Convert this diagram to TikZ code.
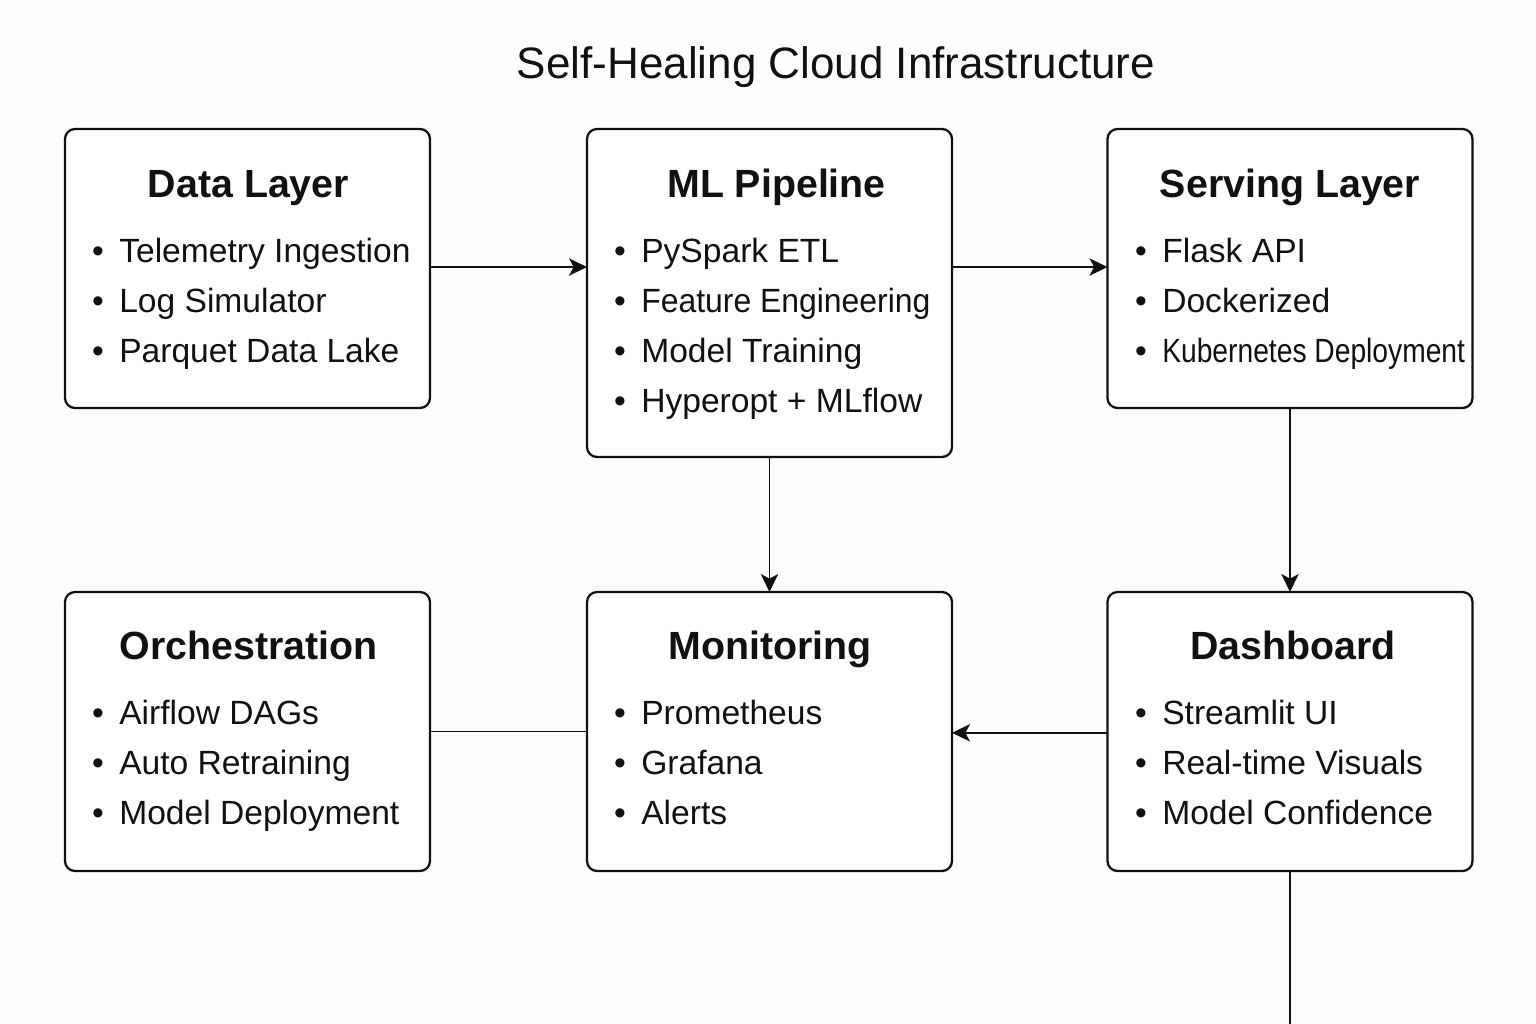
\documentclass[tikz,border=0pt]{standalone}
\usepackage{fontspec}
\setmainfont{Liberation Sans}
\usetikzlibrary{arrows.meta}
\definecolor{ink}{RGB}{17,17,17}
\definecolor{bg}{RGB}{253,253,251}
\tikzset{
  box/.style={draw=ink, line width=1.7pt, rounded corners=7.5pt, fill=white, inner sep=0pt, outer sep=0pt, minimum width=273.75pt},
  boxshort/.style={box, minimum height=209.25pt},
  boxtall/.style={box, minimum height=246pt},
  head/.style={font=\fontsize{29.5pt}{34pt}\selectfont\bfseries, text=ink, anchor=base, inner sep=0pt},
  item/.style={font=\fontsize{25.2pt}{30pt}\selectfont, text=ink, anchor=base west, inner sep=0pt},
  bul/.style={font=\fontsize{25.2pt}{30pt}\selectfont, text=ink, anchor=base, inner sep=0pt},
  arr/.style={draw=ink, line width=1.4pt, -{Stealth[length=13.5pt,width=13pt,inset=3.5pt]}},
  conn/.style={draw=ink, line width=1.4pt}
}
\begin{document}
\begin{tikzpicture}[x=0.75pt,y=-0.75pt]
\useasboundingbox[fill=bg] (0,0) rectangle (1536,1024);
\node[font=\fontsize{33pt}{38pt}\selectfont, text=ink, anchor=base, inner sep=0pt] (title) at (836,79) {Self-Healing Cloud Infrastructure};

% boxes
\node[boxshort] (data) at (247.5,268.5) {};
\node[boxtall]  (ml)   at (769.5,293) {};
\node[boxshort] (serv) at (1290,268.5) {};
\node[boxshort] (orch) at (247.5,731.5) {};
\node[boxshort] (mon)  at (769.5,731.5) {};
\node[boxshort] (dash) at (1290,731.5) {};

% Data Layer
\node[head] (h1) at (248.5,197) {Data Layer};
\node[bul] (b11) at (98,262) {•}; \node[item] (t11) at (119,262) {Telemetry Ingestion};
\node[bul] (b12) at (98,312) {•}; \node[item] (t12) at (119,312) {Log Simulator};
\node[bul] (b13) at (98,362) {•}; \node[item] (t13) at (119,362) {Parquet Data Lake};

% ML Pipeline
\node[head] (h2) at (776.5,197) {ML Pipeline};
\node[bul] (b21) at (620,262) {•}; \node[item] (t21) at (641,262) {PySpark ETL};
\node[bul] (b22) at (620,312) {•}; \node[item] (t22) at (641,312) {\scalebox{0.95}[1]{Feature Engineering}};
\node[bul] (b23) at (620,362) {•}; \node[item] (t23) at (641,362) {Model Training};
\node[bul] (b24) at (620,412) {•}; \node[item] (t24) at (641,412) {Hyperopt + MLflow};

% Serving Layer
\node[head] (h3) at (1290,197) {Serving Layer};
\node[bul] (b31) at (1141,262) {•}; \node[item] (t31) at (1162,262) {Flask API};
\node[bul] (b32) at (1141,312) {•}; \node[item] (t32) at (1162,312) {Dockerized};
\node[bul] (b33) at (1141,362) {•}; \node[item] (t33) at (1162,362) {\scalebox{0.84}[1]{Kubernetes Deployment}};

% Orchestration
\node[head] (h4) at (248.5,659) {Orchestration};
\node[bul] (b41) at (98,724) {•}; \node[item] (t41) at (119,724) {Airflow DAGs};
\node[bul] (b42) at (98,774) {•}; \node[item] (t42) at (119,774) {Auto Retraining};
\node[bul] (b43) at (98,824) {•}; \node[item] (t43) at (119,824) {Model Deployment};

% Monitoring
\node[head] (h5) at (770,659) {Monitoring};
\node[bul] (b51) at (620,724) {•}; \node[item] (t51) at (641,724) {Prometheus};
\node[bul] (b52) at (620,774) {•}; \node[item] (t52) at (641,774) {Grafana};
\node[bul] (b53) at (620,824) {•}; \node[item] (t53) at (641,824) {Alerts};

% Dashboard
\node[head] (h6) at (1293,659) {Dashboard};
\node[bul] (b61) at (1141,724) {•}; \node[item] (t61) at (1162,724) {Streamlit UI};
\node[bul] (b62) at (1141,774) {•}; \node[item] (t62) at (1162,774) {Real-time Visuals};
\node[bul] (b63) at (1141,824) {•}; \node[item] (t63) at (1162,824) {Model Confidence};

% connectors
\coordinate (bottomend) at (1290,1024);
\draw[arr] ([yshift=1.1pt]data.east) -- ([yshift=1.1pt]data.east -| ml.west);
\draw[arr] ([yshift=1.1pt]serv.west -| ml.east) -- ([yshift=1.1pt]serv.west);
\draw[arr] (ml.south) -- (ml.south |- mon.north);
\draw[arr] (serv.south) -- (dash.north);
\draw[arr] ([yshift=-1pt]dash.west) -- ([yshift=-1pt]dash.west -| mon.east);
\draw[conn] (orch.east) -- (mon.west);
\draw[conn] (dash.south) -- (bottomend);
\end{tikzpicture}
\end{document}
